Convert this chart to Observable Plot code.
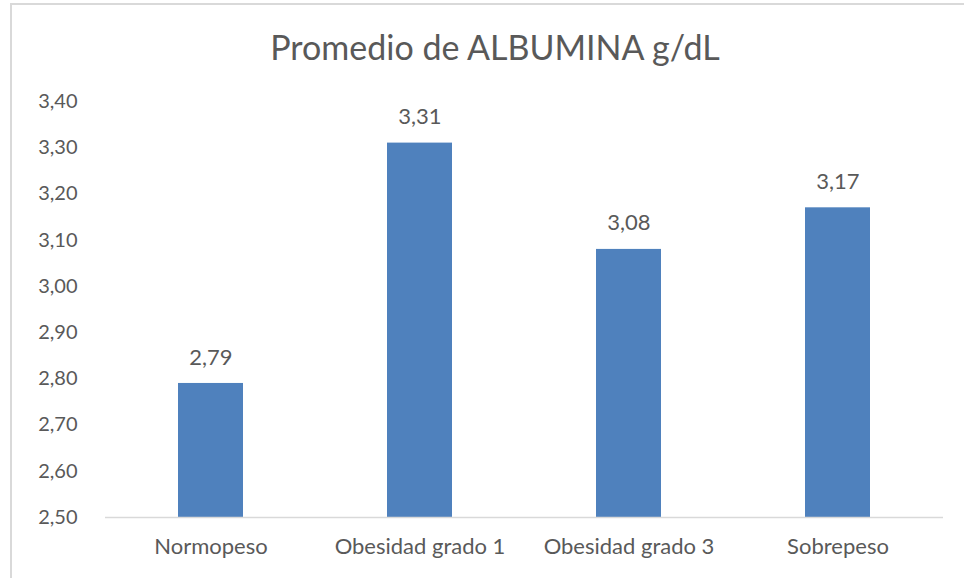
<!DOCTYPE html>
<html>
<head>
<meta charset="utf-8">
<script src="https://cdn.jsdelivr.net/npm/d3@7"></script>
<script src="https://cdn.jsdelivr.net/npm/@observablehq/plot@0.6"></script>
<style>
  html, body { margin: 0; padding: 0; background: #fff; overflow: hidden; }
  #frame { position: absolute; left: 10px; top: 3px; width: 1000px; height: 620px;
           border-left: 2px solid #d9d9d9; border-top: 2px solid #d9d9d9; }
  #title { position: absolute; left: 11px; width: 968px; top: 27px; text-align: center;
           font-family: Lato, "Open Sans", sans-serif; font-size: 34px; color: #595959; line-height: 40px; }
  #chart { position: absolute; left: 0; top: 0; }
</style>
</head>
<body>
<div id="frame"></div>
<div id="title">Promedio de ALBUMINA g/dL</div>
<div id="chart"></div>
<script>
const categories = ["Normopeso", "Obesidad grado 1", "Obesidad grado 3", "Sobrepeso"];
const values = [2.79, 3.31, 3.08, 3.17];
const yTicks = [2.5, 2.6, 2.7, 2.8, 2.9, 3.0, 3.1, 3.2, 3.3, 3.4];

const data = categories.map((c, i) => ({category: c, value: values[i]}));
const fmt = v => v.toFixed(2).replace(".", ",");

const chart = Plot.plot({
  width: 964,
  height: 578,
  marginLeft: 105,
  marginRight: 21,
  marginTop: 101,
  marginBottom: 61,
  style: {fontFamily: "Lato, 'Open Sans', sans-serif", fontSize: "22px", color: "#595959", background: "transparent"},
  x: {domain: categories, paddingInner: 0.69, paddingOuter: 0.345, label: null, tickSize: 0, tickPadding: 21},
  y: {domain: [yTicks[0], yTicks[yTicks.length - 1]], ticks: yTicks, tickFormat: fmt, label: null, tickSize: 0, tickPadding: 28},
  marks: [
    Plot.barY(data, {x: "category", y1: yTicks[0], y2: "value", fill: "#4f81bd"}),
    Plot.ruleY([yTicks[0]], {stroke: "#d9d9d9", strokeWidth: 1.5}),
    Plot.axisY({ticks: yTicks, tickFormat: fmt, tickSize: 0, tickPadding: 28, fontSize: 20, label: null}),
    Plot.text(data, {x: "category", y: "value", text: d => fmt(d.value), dy: -26, fill: "#595959", fontSize: 22})
  ]
});
document.getElementById("chart").appendChild(chart);
</script>
</body>
</html>
